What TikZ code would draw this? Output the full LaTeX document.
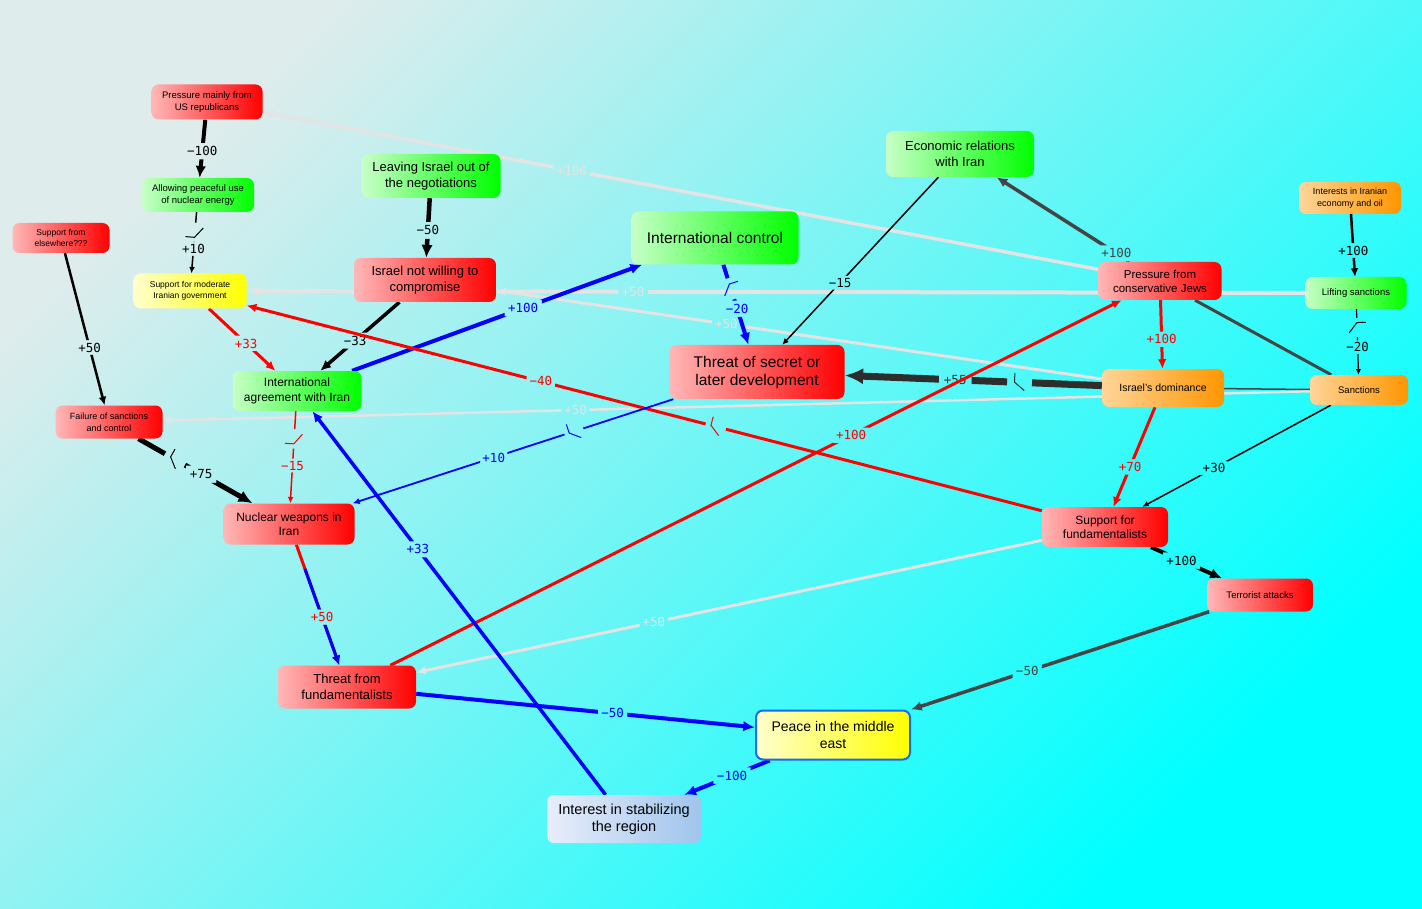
\documentclass[tikz,border=0pt]{standalone}
\usepackage{fontspec}
\setmainfont{Liberation Sans}
\newfontfamily\lblfont{DejaVu Sans Mono}
\usetikzlibrary{arrows.meta}
\newcommand\fsz[2]{\fontsize{#1}{#2}\selectfont}
\definecolor{bgl}{RGB}{222,236,236}
\definecolor{bgm}{RGB}{105,242,242}
\definecolor{bgr}{RGB}{0,255,255}
\definecolor{orng}{RGB}{255,150,0}
\definecolor{dgray}{RGB}{68,68,68}
\definecolor{dkgray}{RGB}{45,45,45}
\definecolor{lgray}{RGB}{228,228,228}
\definecolor{isrl}{RGB}{232,238,250}
\definecolor{isrr}{RGB}{160,196,236}
\definecolor{pmeline}{RGB}{20,110,230}
\pgfdeclarelayer{back}
\pgfdeclarelayer{edges}
\pgfsetlayers{back,edges,main}
\tikzset{
  box/.style={rectangle, rounded corners=7pt, align=center, inner sep=2pt, text=black},
  redbox/.style={box, left color=red!28!white, middle color=red!88!white, right color=red},
  greenbox/.style={box, left color=green!22!white, middle color=green!80!white, right color=green},
  yellowbox/.style={box, left color=yellow!20!white, middle color=yellow!85!white, right color=yellow},
  orangebox/.style={box, left color=orng!40!white, middle color=orng!85!white, right color=orng},
  con/.style={-{Latex[length=3pt 2.2,width=3pt 1.9]}},
  lbl/.style={font=\lblfont\fsz{12.5}{14}, inner sep=1.5pt},
  gapbox/.style={rectangle, inner sep=0pt, minimum width=18pt, minimum height=22pt},
  lagmark/.pic={\draw[-,line width=1pt] (5pt,-8pt) -- (-5pt,0pt) -- (-5pt,9pt);}
}
\newcommand\link[5][]{%
  \path[#1] (#2) -- node[lbl,pos=#4] (L) {#5} (#3);
  \begin{scope}[even odd rule]
    \clip (L.south west) rectangle (L.north east) (-9000,-9000) rectangle (9000,9000);
    \draw[con,#1] (#2) -- (#3);
  \end{scope}}
\newcommand\laglink[6][]{%
  \path[#1] (#2) -- node[lbl,pos=#4] (L) {#5} node[gapbox,pos=#6,sloped] (G) {} pic[pos=#6,sloped,#1]{lagmark} (#3);
  \begin{scope}[even odd rule]
    \clip (L.south west) rectangle (L.north east) (G.south west) -- (G.south east) -- (G.north east) -- (G.north west) -- cycle (-9000,-9000) rectangle (9000,9000);
    \draw[con,#1] (#2) -- (#3);
  \end{scope}}
\begin{document}
\begin{tikzpicture}[x=1pt,y=-1pt]
\useasboundingbox (0,0) rectangle (1422,909);
\begin{pgfonlayer}{back}
\shade[top color=bgl, middle color=bgm, bottom color=bgr, shading angle=45] (0,0) rectangle (1422,909);
\end{pgfonlayer}

\node[redbox, minimum width=111pt, minimum height=35pt, font=\fsz{9.5}{11.5}] (pus) at (207,102) {Pressure mainly from\\US republicans};
\node[greenbox, minimum width=112pt, minimum height=34pt, font=\fsz{9.5}{11.5}] (apn) at (198,195) {Allowing peaceful use\\of nuclear energy};
\node[redbox, minimum width=97pt, minimum height=30pt, font=\fsz{8.5}{11}] (sfe) at (61,238) {Support from\\elsewhere???};
\node[yellowbox, minimum width=113pt, minimum height=35pt, font=\fsz{8.5}{11.5}] (smi) at (190,291) {Support for moderate\\Iranian government};
\node[greenbox, minimum width=139pt, minimum height=44pt, font=\fsz{13}{16}] (lio) at (431,176) {Leaving Israel out of\\the negotiations};
\node[redbox, minimum width=142pt, minimum height=44pt, font=\fsz{13}{16}] (inw) at (425,280) {Israel not willing to\\compromise};
\node[greenbox, minimum width=129pt, minimum height=40pt, font=\fsz{12}{14.5}] (iai) at (297,391) {International\\agreement with Iran};
\node[greenbox, minimum width=167pt, minimum height=53pt, font=\fsz{15.5}{18}] (ic) at (715,238) {International control};
\node[redbox, minimum width=175pt, minimum height=54pt, font=\fsz{15.5}{18}] (tsl) at (757,372) {Threat of secret or\\later development};
\node[greenbox, minimum width=148pt, minimum height=46pt, font=\fsz{13}{16}] (eri) at (960,154) {Economic relations\\with Iran};
\node[orangebox, minimum width=102pt, minimum height=32pt, font=\fsz{9}{12}] (iie) at (1350,198) {Interests in Iranian\\economy and oil};
\node[redbox, minimum width=123pt, minimum height=38pt, font=\fsz{11.5}{14}] (pcj) at (1160,281) {Pressure from\\conservative Jews};
\node[greenbox, minimum width=101pt, minimum height=32pt, font=\fsz{9.5}{12}] (ls) at (1356,293) {Lifting sanctions};
\node[orangebox, minimum width=122pt, minimum height=38pt, font=\fsz{10.5}{13}] (id) at (1163,388) {Israel's dominance};
\node[orangebox, minimum width=98pt, minimum height=30pt, font=\fsz{9.5}{12}] (san) at (1359,390) {Sanctions};
\node[redbox, minimum width=107pt, minimum height=33pt, font=\fsz{9}{12}] (fsc) at (109,422) {Failure of sanctions\\and control};
\node[redbox, minimum width=131pt, minimum height=41pt, font=\fsz{12}{14.5}] (nwi) at (289,524) {Nuclear weapons in\\Iran};
\node[redbox, minimum width=126pt, minimum height=40pt, font=\fsz{12}{14.5}] (sff) at (1105,527) {Support for\\fundamentalists};
\node[redbox, minimum width=106pt, minimum height=33pt, font=\fsz{9.5}{12}] (ta) at (1260,595) {Terrorist attacks};
\node[redbox, minimum width=138pt, minimum height=43pt, font=\fsz{13}{15.5}] (tff) at (347,687) {Threat from\\fundamentalists};
\node[yellowbox, draw=pmeline, line width=2pt, minimum width=154pt, minimum height=49pt, font=\fsz{14}{17}] (pme) at (833,735) {Peace in the middle\\east};
\node[box, left color=isrl, right color=isrr, minimum width=154pt, minimum height=48pt, font=\fsz{14.5}{17}] (isr) at (624,819) {Interest in stabilizing\\the region};

\begin{pgfonlayer}{edges}
\link[lgray,line width=3.5]{pcj}{pus}{.63}{+100}
\link[lgray,line width=4]{ls}{smi}{.635}{+50}
\link[lgray,line width=3]{id}{inw}{.62}{+50}
\link[lgray,line width=2.5]{san}{fsc}{.64}{+50}
\link[lgray,line width=3]{sff}{tff}{.62}{+50}
\link[black,line width=4]{pus}{apn}{.54}{−100}
\laglink[black,line width=1.5]{apn}{smi}{.6}{+10}{.33}
\link[black,line width=2.5]{sfe}{fsc}{.62}{+50}
\link[red,line width=3]{smi}{iai}{.56}{+33}
\link[black,line width=4.5]{lio}{inw}{.54}{−50}
\link[black,line width=3.5]{inw}{iai}{.56}{−33}
\link[blue,line width=4]{iai}{ic}{.59}{+100}
\laglink[blue,line width=4]{ic}{tsl}{.55}{−20}{.3}
\link[black,line width=1.5]{eri}{tsl}{.63}{−15}
\link[dgray,line width=3.5]{pcj}{eri}{.1}{+100}
\link[red,line width=3]{pcj}{id}{.57}{+100}
\draw[dgray,line width=3] (pcj) -- (san);
\draw[dgray,line width=1.5] (id) -- (san);
\link[black,line width=2.5]{iie}{ls}{.58}{+100}
\laglink[black,line width=1.2]{ls}{san}{.58}{−20}{.28}
\laglink[dkgray,line width=7]{id}{tsl}{.57}{+55}{.32}
\link[red,line width=3]{id}{sff}{.6}{+70}
\link[black,line width=1.5]{san}{sff}{.62}{+30}
\laglink[red,line width=3]{sff}{smi}{.63}{−40}{.41}
\link[red,line width=3]{tff}{pcj}{.63}{+100}
\laglink[blue,line width=1.8]{tsl}{nwi}{.56}{+10}{.31}
\laglink[red,line width=1.5]{iai}{nwi}{.59}{−15}{.3}
\laglink[black,line width=5]{fsc}{nwi}{.55}{+75}{.32}
\link[red,line width=3]{nwi}{tff}{.6}{+50}
\path (nwi) -- coordinate[pos=.2] (nt) (tff);
\begin{scope}[even odd rule]
  \clip (L.south west) rectangle (L.north east) (-9000,-9000) rectangle (9000,9000);
  \draw[con,blue,line width=3] (nt) -- (tff);
\end{scope}
\link[blue,line width=4]{tff}{pme}{.58}{−50}
\link[blue,line width=3.5]{isr}{iai}{.64}{+33}
\link[blue,line width=4]{pme}{isr}{.44}{−100}
\link[dgray,line width=3.5]{ta}{pme}{.61}{−50}
\link[black,line width=4]{sff}{ta}{.43}{+100}
\end{pgfonlayer}
\end{tikzpicture}
\end{document}
